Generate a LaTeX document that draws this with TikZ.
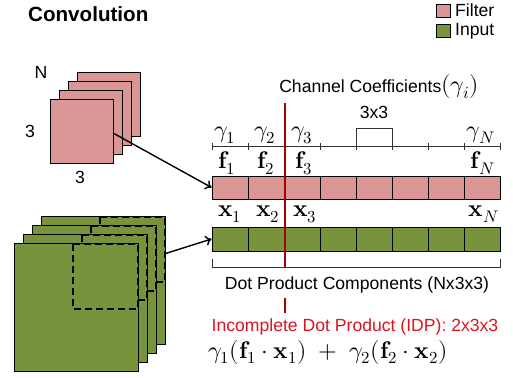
\documentclass[tikz,border=0pt]{standalone}
\usepackage{fontspec}
\usepackage{unicode-math}
\setmainfont{Liberation Sans}
\setmathfont{Latin Modern Math}
\usepackage{tikz}
\usetikzlibrary{arrows.meta}

\definecolor{filtpink}{RGB}{217,150,148}
\definecolor{inpgreen}{RGB}{119,147,60}
\definecolor{idpline}{RGB}{165,0,0}
\definecolor{idptext}{RGB}{220,20,30}

\newcommand{\bigmath}{\fontsize{24}{28}\selectfont}

\tikzset{
  txt/.style={font=\fontsize{17.6}{20}\selectfont, inner sep=1pt},
  mth/.style={font=\bigmath, inner sep=1pt},
  filt/.style={draw=black, line width=0.9pt, fill=filtpink},
  inp/.style={draw=black, line width=0.9pt, fill=inpgreen},
  win/.style={draw=black, line width=1.7pt, dash pattern=on 7pt off 4pt},
  fcell/.style={filt, minimum width=36pt, minimum height=23pt, inner sep=0pt},
  xcell/.style={inp, minimum width=36pt, minimum height=24pt, inner sep=0pt},
  brace/.style={draw=black!80, line width=0.8pt},
  link/.style={-{To[length=6pt, width=10pt]}, line width=1.4pt},
  idp/.style={draw=idpline, line width=2.6pt}
}

\begin{document}
\begin{tikzpicture}[x=1pt, y=-1pt]

\useasboundingbox (0,0) rectangle (513,377);

\node [txt, font=\fontsize{20.6}{24}\selectfont\bfseries, anchor=west] (title) at (27,14) {Convolution};

\draw [filt] (436,4) rectangle (450,17);
\draw [inp] (436,24) rectangle (450,37);
\node [txt, anchor=west] (legf) at (454,10) {Filter};
\node [txt, anchor=west] (legi) at (454,31) {Input};

\foreach \i in {3,2,1,0}
  \draw [filt] (50+9*\i,99-9*\i) rectangle (113+9*\i,163-9*\i);
\coordinate (F0) at (113,133);

\node [txt] (labN) at (41,72) {N};
\node [txt] (labH) at (30,131) {3};
\node [txt] (labW) at (80,177) {3};

\foreach \i in {3,2,1,0} {
  \draw [inp] (14+9*\i,243-9*\i) rectangle (138+9*\i,371-9*\i);
  \draw [win] (73+9*\i,244-9*\i) rectangle (138+9*\i,309-9*\i);
}
\coordinate (X3) at (164,254);

\foreach \k in {0,...,7} {
  \node [fcell] (f\k) at (230+36*\k,187.5) {};
  \node [xcell] (x\k) at (230+36*\k,239) {};
}

\coordinate (A0) at (212,146);
\coordinate (A8) at (500,146);
\draw [brace] (A0) -- (A8);
\foreach \k in {0,...,8}
  \draw [brace] (212+36*\k,142.5) -- (212+36*\k,150);

\coordinate (B0) at (356,146);
\coordinate (B1) at (356,128);
\coordinate (B2) at (392,128);
\coordinate (B3) at (392,146);
\draw [brace] (B0) -- (B1) -- (B2) -- (B3);
\node [txt] (lab33) at (374,112) {3x3};

\node [txt] (chan) at (379,87) {Channel Coefficients{\bigmath$(\gamma_i)$}};

\node [mth, anchor=south] (g1) at (225,145) {$\gamma_1$};
\node [mth, anchor=south] (g2) at (265,145) {$\gamma_2$};
\node [mth, anchor=south] (g3) at (302,145) {$\gamma_3$};
\node [mth, anchor=south] (gN) at (481,145) {$\gamma_N$};

\node [mth] (lf1) at (227,163) {$\symbf{f}_1$};
\node [mth] (lf2) at (266,163) {$\symbf{f}_2$};
\node [mth] (lf3) at (304,163) {$\symbf{f}_3$};
\node [mth] (lfN) at (483,163) {$\symbf{f}_N$};

\node [mth] (lx1) at (230,214) {$\symbf{x}_1$};
\node [mth] (lx2) at (268,214) {$\symbf{x}_2$};
\node [mth] (lx3) at (305,214) {$\symbf{x}_3$};
\node [mth] (lxN) at (484,214) {$\symbf{x}_N$};

\coordinate (C0) at (212,259);
\coordinate (C1) at (212,267);
\coordinate (C2) at (500,267);
\coordinate (C3) at (500,259);
\draw [brace] (C0) -- (C1) -- (C2) -- (C3);

\coordinate (R0) at (285,103);
\coordinate (R1) at (285,268);
\coordinate (R2) at (285,298);
\coordinate (R3) at (285,313);
\draw [idp] (R0) -- (R1);
\draw [idp] (R2) -- (R3);

\node [txt] (dpc) at (357,285) {Dot Product Components (Nx3x3)};
\node [txt, text=idptext] (incomp) at (355,327) {Incomplete Dot Product (IDP): 2x3x3};
\node [mth] (formula) at (328,352) {$\gamma_1(\symbf{f}_1\cdot\symbf{x}_1)\;+\;\gamma_2(\symbf{f}_2\cdot\symbf{x}_2)$};

\draw [link] (F0) -- (f0.west);
\draw [link] (X3) -- (x0.west);

\end{tikzpicture}
\end{document}
